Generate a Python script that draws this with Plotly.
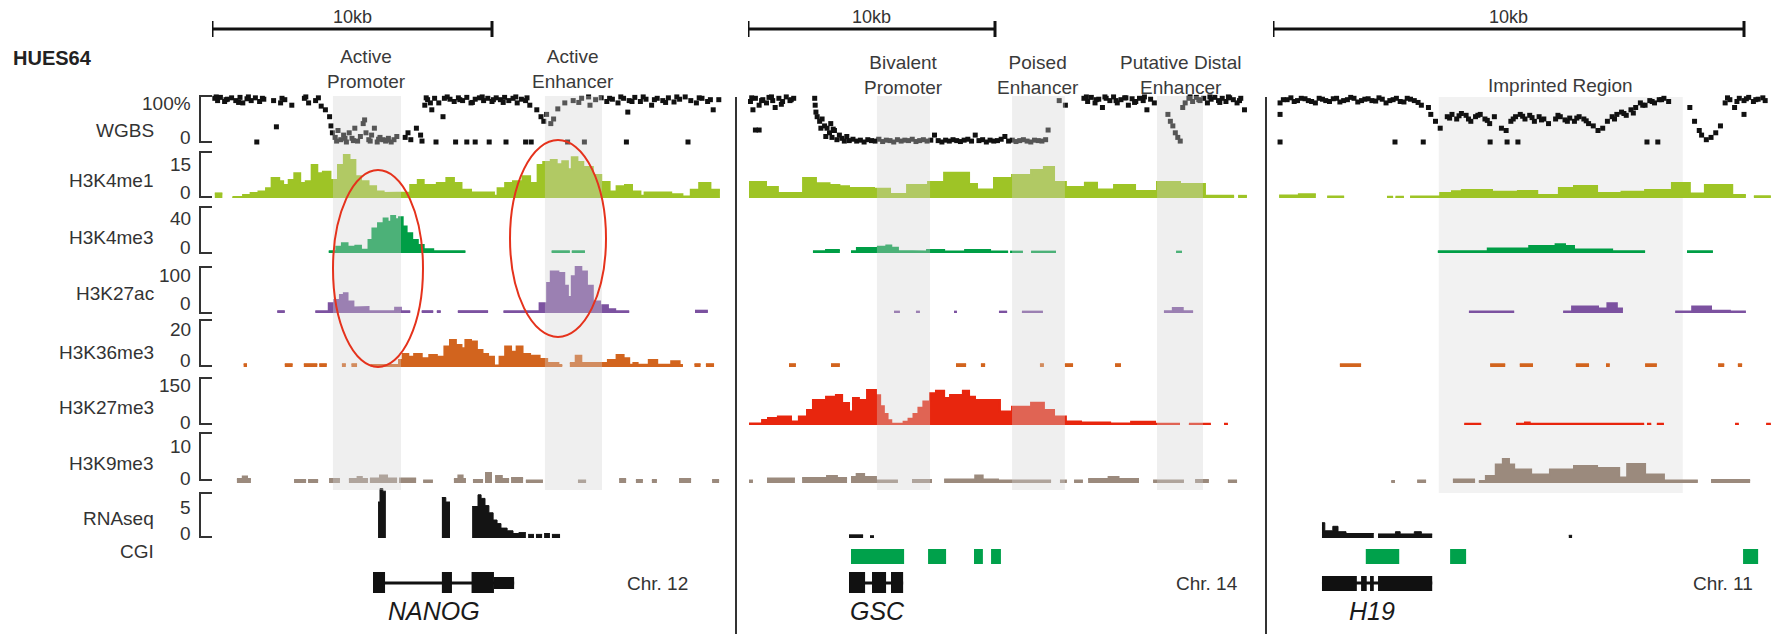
import plotly.graph_objects as go

W, H = 1787, 634
FONT = "Liberation Sans, Arial, Helvetica, sans-serif"

# ======================= DATA =======================
cell_line = "HUES64"
track_names = ["WGBS", "H3K4me1", "H3K4me3", "H3K27ac", "H3K36me3", "H3K27me3", "H3K9me3", "RNAseq"]
track_max = [100, 15, 40, 100, 20, 150, 10, 5]
track_top_label = ["100%", "15", "40", "100", "20", "150", "10", "5"]
track_bottom_label = ["0", "0", "0", "0", "0", "0", "0", "0"]
extra_label = "CGI"

panel_genes = ["NANOG", "GSC", "H19"]
panel_chroms = ["Chr. 12", "Chr. 14", "Chr. 11"]
panel_span_kb = [18.25, 20.4, 10.65]
scalebar_kb = 10
scalebar_text = "10kb"

# annotated regions (kb)
nanog_region_names = ["Active<br>Promoter", "Active<br>Enhancer"]
nanog_region_start = [4.32, 11.89]
nanog_region_end = [6.75, 13.93]
gsc_region_names = ["Bivalent<br>Promoter", "Poised<br>Enhancer", "Putative Distal<br>Enhancer"]
gsc_region_start = [5.22, 10.69, 16.56]
gsc_region_end = [7.37, 12.83, 18.42]
h19_region_names = ["Imprinted Region"]
h19_region_start = [3.52]
h19_region_end = [8.70]

# ---------- WGBS (position kb, methylation %) ----------
nanog_wgbs_kb = [0.1, 0.2, 0.3, 0.45, 0.55, 0.7, 0.85, 1.0, 1.1, 1.25, 1.4, 1.55, 1.7, 1.85, 1.6, 2.3, 2.2, 2.45, 2.6, 2.85,
                 3.3, 3.45, 3.7, 3.9, 4.05, 4.2, 4.25, 4.3, 4.4, 4.5, 4.6, 4.7, 4.8, 4.9, 5.0, 5.1, 5.2, 5.3, 5.4, 5.45,
                 5.5, 5.6, 5.7, 5.8, 5.9, 6.0, 6.1, 6.2, 6.3, 6.4, 6.5, 6.6, 6.9, 7.0, 7.1, 7.3, 7.45, 7.5, 7.6, 7.7,
                 7.85, 7.95, 8.1, 8.25, 8.3, 8.5, 8.65, 8.8, 8.95, 9.1, 9.25, 9.4, 9.55, 9.7, 9.85, 10.0, 10.15, 10.3, 10.45, 10.6,
                 10.75, 10.9, 11.05, 11.2, 11.35, 8.0, 8.7, 9.1, 9.4, 9.9, 10.5, 11.2, 11.4, 12.7, 13.3, 11.6, 11.75, 11.85, 11.95, 12.1,
                 12.2, 12.35, 12.6, 12.9, 13.2, 13.5, 13.7, 13.9, 14.1, 14.3, 14.5, 14.7, 14.9, 15.1, 15.3, 15.5, 15.7, 15.9, 16.1, 16.3,
                 16.5, 16.7, 16.9, 17.1, 17.3, 17.5, 17.7, 17.9, 18.1, 14.8, 17.0, 14.85,
                 0.15, 0.5, 0.95, 1.3, 1.8, 2.5, 3.35, 3.8, 7.65, 7.8, 8.4, 8.85, 9.3, 9.65, 10.05, 10.4, 10.85, 11.25,
                 13.1, 13.45, 14.2, 14.6, 15.0, 15.4, 15.8, 16.2, 16.6, 17.4, 17.8, 4.45, 4.75, 5.05, 5.65, 5.95, 6.25]
nanog_wgbs_pct = [95, 90, 97, 88, 93, 96, 90, 97, 85, 94, 90, 96, 88, 93, 0, 33, 90, 85, 92, 80,
                  95, 85, 90, 78, 70, 55, 35, 20, 10, 25, 5, 15, 0, 20, 8, 30, 2, 12, 40, 48,
                  20, 5, 15, 30, 0, 10, 5, 2, 8, 0, 5, 12, 10, 20, 5, 30, 15, 2, 80, 92,
                  70, 95, 85, 55, 95, 93, 88, 96, 90, 97, 85, 93, 96, 90, 95, 88, 96, 92, 97, 90,
                  95, 85, 93, 90, 80, 0, 0, 0, 0, 0, 0, 0, 0, 0, 0, 70, 55, 45, 60, 40,
                  50, 72, 85, 90, 95, 80, 92, 96, 88, 93, 85, 95, 90, 97, 88, 93, 80, 95, 90, 96,
                  87, 93, 98, 90, 85, 95, 88, 70, 92, 0, 0, 65,
                  98, 92, 86, 98, 95, 95, 98, 96, 96, 85, 98, 92, 86, 98, 92, 86, 98, 96,
                  86, 98, 95, 98, 88, 98, 92, 86, 98, 96, 92, 2, 8, 3, 2, 6, 4]

gsc_wgbs_kb = [0.1, 0.2, 0.3, 0.45, 0.6, 0.75, 0.85, 1.0, 1.1, 1.25, 1.4, 1.55, 1.7, 1.85, 0.3, 0.45,
               2.7, 2.72, 2.75, 2.8, 2.9, 3.0, 3.1, 3.2, 3.3, 3.35, 3.4, 3.5, 3.6, 3.7, 3.8, 3.9, 4.0,
               4.1, 4.25, 4.4, 4.55, 4.7, 4.85, 5.0, 5.15, 5.3, 5.45, 5.6, 5.75, 5.9, 6.05, 6.2, 6.35, 6.5, 6.65,
               6.8, 6.95, 7.1, 7.25, 7.4, 7.55, 7.7, 7.85, 8.0, 8.15, 8.3, 8.45, 8.6, 8.75, 8.9, 9.05, 9.2, 9.35,
               9.5, 9.65, 9.8, 9.95, 10.1, 10.25, 10.4, 10.55, 10.7, 10.85, 11.0, 11.15, 11.3, 11.45, 11.6, 11.75,
               11.9, 12.05, 12.15, 12.6, 12.85,
               13.6, 13.75, 13.9, 14.05, 14.2, 14.35, 14.5, 14.65, 14.8, 14.95, 15.1, 15.25, 15.4, 15.55, 15.7, 15.85,
               16.0, 16.15, 16.3, 16.45, 17.0, 17.1, 17.2, 17.3, 17.4, 17.5,
               17.6, 17.7, 17.85, 18.0, 18.15, 18.3, 18.45, 18.6, 18.75, 18.9, 19.05, 19.2, 19.35, 19.5, 19.65, 19.8,
               19.95, 20.1,
               0.15, 0.55, 0.95, 1.35, 1.75, 2.95, 3.15, 3.45, 13.7, 14.1, 14.45, 14.9, 15.3, 15.65, 16.05, 17.9,
               18.25, 18.7, 19.1, 19.45, 19.9]
gsc_wgbs_pct = [88, 70, 95, 80, 92, 85, 97, 90, 75, 95, 88, 98, 90, 95, 26, 26,
                95, 80, 65, 55, 45, 50, 35, 30, 20, 40, 10, 25, 5, 15, 8, 2, 12,
                3, 6, 2, 4, 0, 5, 3, 2, 6, 1, 4, 3, 0, 5, 2, 4, 3, 6,
                1, 3, 5, 2, 4, 15, 3, 0, 4, 2, 5, 3, 1, 4, 6, 2, 15, 3,
                5, 0, 4, 2, 3, 6, 12, 2, 4, 1, 3, 5, 2, 0, 4, 3,
                2, 5, 26, 90, 80,
                95, 88, 97, 85, 93, 75, 95, 90, 98, 85, 92, 96, 80, 94, 88, 95,
                90, 70, 93, 85, 60, 45, 35, 20, 10, 2,
                75, 85, 95, 88, 97, 90, 95, 85, 93, 97, 90, 95, 88, 96, 92, 85,
                95, 70,
                96, 90, 98, 82, 92, 30, 12, 28, 98, 92, 98, 90, 96, 86, 98, 98,
                92, 98, 86, 98, 90]

h19_wgbs_kb = [0.15, 0.3, 0.45, 0.6, 0.75, 0.9, 1.05, 1.2, 1.35, 1.5, 1.65, 1.8, 1.95, 2.1, 2.25, 2.4, 2.55, 2.7, 2.85, 3.0,
               3.15, 3.3, 0.15, 0.15, 2.59, 3.19, 4.61, 4.97, 5.2, 7.94, 8.17,
               3.35, 3.45, 3.55, 3.7, 3.8, 3.9, 4.0, 4.1, 4.2, 4.3, 4.4, 4.5, 4.6, 4.7, 4.85, 4.95,
               5.05, 5.15, 5.25, 5.35, 5.45, 5.55, 5.65, 5.75, 5.85, 6.0, 6.1, 6.2, 6.3, 6.4, 6.5, 6.6, 6.7, 6.8,
               6.9, 7.0, 7.1, 7.2, 7.3, 7.4, 7.5, 7.6, 7.7, 7.8, 7.9, 8.0, 8.1, 8.2, 8.3, 8.4, 8.85,
               8.95, 9.05, 9.1, 9.2, 9.3, 9.4, 9.5, 9.6, 9.7, 9.8, 9.9, 10.0, 10.1, 10.2, 10.3, 10.45, 10.0,
               0.22, 0.38, 0.52, 0.68, 0.82, 0.98, 1.12, 1.28, 1.42, 1.58, 1.72, 1.88, 2.02, 2.18, 2.32, 2.48, 2.62,
               2.78, 2.92, 3.08, 3.75, 3.95, 4.15, 4.35, 4.55, 5.1, 5.3, 5.5, 5.7, 6.05, 6.25, 6.45, 6.65, 7.25,
               7.45, 7.65, 7.85, 8.05, 8.25, 9.65, 9.85, 10.05, 10.25, 10.4]
h19_wgbs_pct = [85, 92, 88, 95, 90, 85, 93, 88, 95, 90, 97, 87, 93, 90, 96, 85, 92, 88, 95, 90,
                80, 75, 60, 0, 0, 0, 0, 0, 0, 0, 0,
                60, 45, 30, 55, 60, 50, 62, 58, 45, 55, 60, 50, 40, 55, 30, 25,
                45, 55, 60, 50, 58, 45, 55, 50, 40, 50, 55, 48, 52, 45, 55, 50, 40, 35,
                25, 30, 45, 55, 60, 65, 58, 70, 75, 85, 80, 90, 85, 92, 95, 88, 75,
                45, 25, 15, 5, 10, 20, 35, 85, 92, 75, 95, 90, 97, 88, 93, 90, 60,
                92, 96, 90, 94, 88, 95, 90, 94, 87, 92, 95, 90, 94, 89, 93, 90, 95,
                87, 93, 86, 52, 57, 50, 58, 47, 50, 56, 53, 48, 58, 45, 52, 46, 50,
                62, 63, 80, 88, 92, 96, 88, 94, 92, 96]

# ---------- signal tracks: bin edges (kb) and bin values (None = no data) ----------
nanog_k4me1_kb = [0.1, 0.37, 0.73, 1.11, 1.38, 1.66, 1.93, 2.13, 2.4, 2.54, 2.74, 2.94, 3.15, 3.35, 3.56, 3.76, 3.96,
                  4.23, 4.5, 4.71, 4.91, 5.12, 5.32, 5.59, 5.86, 6.13, 6.81, 7.08, 7.35, 7.56, 8.03, 8.37, 8.64, 8.91,
                  9.25, 10.07, 10.2, 10.47, 10.75, 11.09, 11.36, 11.63, 11.83, 12.1, 12.31, 12.51, 12.71, 12.85, 13.05,
                  13.26, 13.6, 13.9, 14.2, 14.45, 14.75, 15.0, 15.3, 15.45, 16.4, 16.8, 17.1, 17.4, 17.8, 18.14]
nanog_k4me1_val = [1.5, None, 0.3, 1.0, 1.6, 2.1, 3.2, 6.5, 5.5, 4.2, 5.9, 8.1, 4.9, 5.5, 10.8, 8.1, 8.6, 5.9, 10.8, 14.0,
                   12.4, 7.1, 5.5, 3.8, 2.1, 1.6, 1.8, 4.2, 5.9, 4.2, 4.9, 6.5, 4.9, 2.7, 1.8, 0.7, 3.2, 4.9, 5.5, 7.1,
                   4.9, 10.8, 11.7, 12.4, 11.0, 12.0, 9.4, 13.3, 11.7, 10.1, 7.5, 5.2, 2.1, 3.8, 4.2, 2.1, 0.7, 1.8,
                   1.2, 0.5, 2.7, 4.9, 2.7]
nanog_k4me3_kb = [4.17, 4.44, 4.64, 4.84, 5.12, 5.32, 5.59, 5.73, 5.93, 6.13, 6.27, 6.4, 6.54, 6.68, 6.81, 6.95, 7.15,
                  7.35, 7.56, 7.9, 9.05, 12.13, 12.78, 12.85, 13.32]
nanog_k4me3_val = [1.5, 5.5, 8.4, 5.5, 6.3, 2.9, 11.3, 21.4, 25.8, 30.1, 27.2, 32.2, 29.3, 31.0, 23.0, 17.2, 11.3, 7.0,
                   3.2, 1.5, None, 1.5, None, 1.5]
nanog_k27ac_kb = [2.33, 2.6, 3.69, 4.17, 4.37, 4.57, 4.71, 4.84, 5.05, 5.32, 5.59, 6.54, 6.74, 7.08, 7.49, 7.9, 8.03,
                  8.17, 8.78, 9.86, 10.41, 11.7, 11.97, 12.1, 12.37, 12.58, 12.71, 12.85, 12.99, 13.19, 13.39, 13.6,
                  13.86, 14.14, 14.4, 14.9, 17.25, 17.71]
nanog_k27ac_val = [4, None, 4, 21, 28, 39, 43, 25, 12, 13, 4, 11.6, 4, None, 4, None, 4, None, 4, None, 4, 21, 65, 90,
                   87, 59, 35, 80, 100, 90, 59, 25, 17, 8, 4, None, 5]
nanog_k36me3_kb = [1.13, 1.25, 2.6, 2.88, 3.28, 3.76, 3.83, 4.1, 4.64, 4.78, 4.98, 5.18, 5.66, 6.27, 6.68, 6.81, 7.01,
                   7.22, 7.49, 7.76, 8.03, 8.3, 8.5, 8.71, 8.91, 9.05, 9.25, 9.46, 9.66, 9.86, 10.07, 10.27, 10.47,
                   10.68, 10.88, 11.09, 11.36, 11.7, 11.97, 12.37, 12.51, 12.78, 12.99, 13.19, 14.14, 14.45, 14.7,
                   14.9, 15.05, 15.2, 15.6, 15.9, 16.4, 16.7, 16.82, 17.23, 17.45, 17.64, 17.93]
nanog_k36me3_val = [1.2, None, 1.2, None, 1.2, None, 1.2, None, 1.2, None, 1.2, None, 0.8, 1.0, 3.0, 5.5, 4.4, 5.5,
                    3.7, 5.1, 4.4, 8.7, 11.5, 9.4, 8.0, 11.5, 10.8, 7.2, 5.5, 4.4, 0.6, 4.4, 8.7, 6.5, 8.7, 5.5, 4.8,
                    3.4, 1.7, 0.8, None, 1.7, 4.8, 1.7, 3.0, 5.1, 3.7, 1.0, 1.7, 1.0, 3.0, 1.0, 2.4, 0.8, None, 1.2,
                    None, 1.2]
nanog_k9me3_kb = [0.89, 1.1, 1.25, 1.39, 2.93, 3.36, 3.43, 3.79, 4.18, 4.57, 4.89, 5.2, 5.35, 5.57, 5.64, 6.0, 6.25,
                  6.61, 6.68, 7.29, 7.54, 7.89, 8.64, 8.8, 8.95, 9.07, 9.32, 9.68, 9.75, 10.0, 10.11, 10.35, 10.61,
                  10.68, 11.11, 11.21, 11.82, 13.07, 13.36, 14.54, 14.79, 15.14, 15.39, 15.71, 15.89, 16.68, 17.11,
                  17.86, 18.11]
nanog_k9me3_val = [0.8, 1.3, 0.8, None, 0.6, None, 0.6, None, 0.8, None, 0.8, 1.2, 0.8, None, 0.9, 1.5, 0.9, None,
                   0.9, None, 0.5, None, 0.8, 1.5, 0.8, None, 0.6, None, 2.0, None, 1.4, 0.8, None, 1.0, None, 0.5,
                   None, 0.5, None, 0.8, None, 0.6, None, 0.6, None, 0.8, None, 0.6]
nanog_rna_kb = [5.93, 6.0, 6.1, 6.21, 8.21, 8.35, 8.5, 9.29, 9.5, 9.61, 9.75, 9.89, 10.04, 10.18, 10.32, 10.54, 10.75,
                10.96, 11.21, 11.29, 11.5, 11.57, 11.79, 11.86, 12.07, 12.14, 12.43]
nanog_rna_val = [4.0, 5.5, 5.2, None, 4.5, 4.0, None, 3.5, 4.8, 4.4, 3.6, 2.8, 2.0, 1.6, 1.1, 0.8, 0.5, 0.6, None,
                 0.4, None, 0.4, None, 0.5, None, 0.4]

gsc_k4me1_kb = [0.04, 0.73, 1.21, 2.23, 2.75, 3.3, 3.7, 4.09, 5.1, 5.75, 6.44, 7.29, 7.94, 8.95, 9.27, 9.96, 10.69,
                11.46, 11.98, 12.39, 12.87, 13.64, 14.13, 14.82, 15.67, 16.56, 17.49, 18.5, 19.68, 19.84, 20.2]
gsc_k4me1_val = [5.2, 3.6, 1.6, 6.5, 4.8, 4.2, 3.8, 3.3, 3.0, 1.3, 4.2, 5.2, 8.2, 4.6, 2.8, 6.5, 7.5, 9.1, 10.1, 5.2,
                 3.6, 5.0, 2.8, 4.2, 2.3, 5.2, 4.6, 0.7, None, 0.7]
gsc_k4me3_kb = [2.63, 3.16, 3.72, 4.17, 4.41, 5.26, 5.6, 5.8, 6.07, 6.76, 7.25, 7.94, 8.79, 9.8, 10.53, 10.61, 11.13,
                11.46, 12.47, 17.33, 17.57]
gsc_k4me3_val = [1.5, 2.5, None, 1.5, 4.3, 5.5, 6.5, 4.5, 1.7, 1.2, 2.5, 1.2, 2.5, 1.2, None, 1.2, None, 1.2, None, 1.2]
gsc_k27ac_kb = [5.91, 6.15, 6.8, 6.96, 8.34, 8.46, 10.16, 10.49, 11.09, 11.94, 16.84, 17.2, 17.6, 18.02]
gsc_k27ac_val = [3, None, 3, None, 3, None, 3, None, 3, None, 4, 11, 4]
gsc_k36me3_kb = [1.66, 1.94, 3.36, 3.72, 8.42, 8.83, 9.43, 9.6, 11.82, 11.98, 12.83, 13.16, 14.86, 15.1]
gsc_k36me3_val = [1.2, None, 1.2, None, 1.2, None, 1.2, None, 1.2, None, 1.2, None, 1.2]
gsc_k27me3_kb = [0.04, 0.57, 0.81, 1.21, 1.74, 2.06, 2.39, 2.63, 3.16, 3.56, 3.81, 4.09, 4.25, 4.49, 4.82, 5.18, 5.35,
                 5.5, 5.65, 5.8, 6.1, 6.3, 6.5, 6.7, 6.9, 7.1, 7.37, 7.61, 7.94, 8.18, 8.7, 8.95, 9.19, 10.2, 10.69,
                 11.46, 11.98, 12.39, 12.87, 13.48, 14.66, 15.51, 16.48, 17.49, 17.85, 18.74, 19.27, 19.43]
gsc_k27me3_val = [5, 16, 22, 27, 11, 27, 48, 80, 90, 96, 70, 43, 86, 80, 112, 95, 60, 35, 15, 5, 4, 10, 20, 35, 55,
                  75, 101, 109, 86, 96, 109, 90, 80, 43, 58, 71, 48, 27, 11, 8, 5, 10, 4, None, 4, None, 4]
gsc_k9me3_kb = [0.04, 0.2, 0.77, 1.9, 2.19, 3.2, 3.6, 4.01, 4.17, 4.4, 4.7, 5.18, 6.07, 6.64, 7.45, 7.94, 9.2, 9.5,
                10.12, 12.27, 12.63, 12.91, 13.2, 13.56, 13.77, 14.6, 15.0, 15.83, 16.4, 17.65, 18.1, 18.66, 19.43, 19.8]
gsc_k9me3_val = [0.5, None, 0.9, None, 1.0, 1.4, 1.0, None, 1.2, 1.8, 1.2, 0.5, None, 0.6, None, 0.7, 1.5, 0.7, 0.5,
                 None, 0.5, None, 0.5, None, 0.8, 1.2, 0.8, None, 0.5, None, 0.6, None, 0.5]
gsc_rna_kb = [4.09, 4.66, 4.94, 5.1]
gsc_rna_val = [0.35, None, 0.25]

h19_k4me1_kb = [0.13, 0.55, 0.91, 1.15, 1.51, 2.42, 2.55, 2.6, 2.78, 2.91, 3.55, 3.8, 4.01, 4.65, 5.2, 5.61, 6.07, 6.39,
                6.88, 7.4, 7.9, 8.47, 8.85, 9.17, 9.75, 10.04, 10.21, 10.57]
h19_k4me1_val = [0.8, 1.2, None, 0.5, None, 0.4, None, 0.4, None, 0.5, 1.6, 2.2, 2.6, 2.0, 2.3, 1.0, 3.3, 3.9, 1.6,
                 2.0, 2.6, 4.9, 1.5, 4.2, 1.0, None, 0.6]
h19_k4me3_kb = [3.5, 4.56, 5.44, 6.0, 6.2, 6.39, 7.2, 7.9, 8.79, 9.34]
h19_k4me3_val = [1.5, 4.0, 6.0, 7.5, 6.0, 3.0, 1.5, None, 1.5]
h19_k27ac_kb = [4.16, 5.12, 6.16, 6.35, 6.9, 7.1, 7.3, 7.43, 8.54, 8.9, 9.3, 9.7, 9.9, 10.04]
h19_k27ac_val = [3, None, 3, 14, 10, 21, 10, None, 3, 14, 5, 3, 3]
h19_k36me3_kb = [1.42, 1.87, 4.61, 4.93, 5.24, 5.52, 6.43, 6.71, 7.07, 7.15, 7.9, 8.15, 9.45, 9.58, 9.87, 9.96]
h19_k36me3_val = [1.2, None, 1.2, None, 1.2, None, 1.2, None, 1.2, None, 1.2, None, 1.2, None, 1.2]
h19_k27me3_kb = [4.06, 4.42, 5.16, 5.35, 5.45, 7.88, 7.94, 8.03, 8.15, 8.3, 9.81, 9.89, 10.47, 10.57]
h19_k27me3_val = [4, None, 4, 8, 4, None, 4, None, 4, None, 4, None, 4]
h19_k9me3_kb = [2.51, 2.59, 3.06, 3.25, 3.82, 4.29, 4.37, 4.52, 4.73, 4.88, 5.01, 5.12, 5.48, 5.88, 6.39, 6.88, 7.35,
                7.52, 7.9, 8.3, 9.02, 9.3, 10.13]
h19_k9me3_val = [0.4, None, 0.5, None, 0.7, None, 0.4, 1.4, 3.7, 4.8, 3.7, 2.7, 1.7, 2.7, 3.4, 3.0, 1.1, 3.8, 1.7,
                 0.5, None, 0.6]
h19_rna_kb = [1.04, 1.1, 1.27, 1.38, 1.55, 2.14, 2.23, 2.6, 2.7, 3.0, 3.15, 3.38, 6.28, 6.35]
h19_rna_val = [1.7, 0.8, 1.3, 0.7, 0.5, None, 0.45, 0.7, 0.45, 0.7, 0.45, None, 0.3]

# ---------- CpG islands (kb) ----------
nanog_cgi_start, nanog_cgi_end = [], []
gsc_cgi_start = [4.17, 7.29, 9.15, 9.84]
gsc_cgi_end = [6.32, 8.02, 9.51, 10.24]
h19_cgi_start = [1.97, 3.76, 9.98]
h19_cgi_end = [2.68, 4.10, 10.30]

# ---------- gene models (kb) ----------
nanog_exon_start = [5.75, 8.21, 9.27, 9.50, 10.07]
nanog_exon_end = [6.18, 8.57, 9.50, 10.07, 10.79]
nanog_exon_kind = ["cds", "cds", "cds", "cds", "utr"]
gsc_exon_start = [4.09, 5.02, 5.79]
gsc_exon_end = [4.74, 5.59, 6.28]
gsc_exon_kind = ["cds", "cds", "cds"]
h19_exon_start = [1.04, 1.87, 2.06, 2.23]
h19_exon_end = [1.78, 1.99, 2.14, 3.38]
h19_exon_kind = ["nc", "nc", "nc", "nc"]

# ======================= LAYOUT CONSTANTS =======================
track_colors = ["#111111", "#9ec426", "#009e46", "#7c52a0", "#d2641e", "#e8260e", "#9b8a7d", "#141414"]
track_top_px = [96, 152, 207, 267, 320, 378, 433, 493]
track_base_px = [142, 198, 253, 313, 367, 425, 483, 538]
bracket_bot_px = [142, 197, 253, 313, 366, 424, 480, 537]
label_y_px = [130, 180, 237, 293, 352, 407, 463, 518]
top_lab_y_px = [103, 165, 218, 275, 329, 385, 447, 507]
bot_lab_y_px = [137, 192, 247, 303, 360, 422, 478, 533]
panel_left_px = [212, 748, 1273]
panel_px_per_kb = [28.0, 24.7, 47.1]
shade_on_top = [True, True, False]
TEXT = "#333333"


def xp(p):
    return p / W


def yp(p):
    return 1 - p / H


panels = [
    dict(wgbs=(nanog_wgbs_kb, nanog_wgbs_pct),
         sig={1: (nanog_k4me1_kb, nanog_k4me1_val), 2: (nanog_k4me3_kb, nanog_k4me3_val),
              3: (nanog_k27ac_kb, nanog_k27ac_val), 4: (nanog_k36me3_kb, nanog_k36me3_val),
              6: (nanog_k9me3_kb, nanog_k9me3_val), 7: (nanog_rna_kb, nanog_rna_val)},
         regions=(nanog_region_names, nanog_region_start, nanog_region_end),
         cgi=(nanog_cgi_start, nanog_cgi_end),
         exons=(nanog_exon_start, nanog_exon_end, nanog_exon_kind),
         label_y=68.5, gene_x=434, chrom_x=690),
    dict(wgbs=(gsc_wgbs_kb, gsc_wgbs_pct),
         sig={1: (gsc_k4me1_kb, gsc_k4me1_val), 2: (gsc_k4me3_kb, gsc_k4me3_val),
              3: (gsc_k27ac_kb, gsc_k27ac_val), 4: (gsc_k36me3_kb, gsc_k36me3_val),
              5: (gsc_k27me3_kb, gsc_k27me3_val), 6: (gsc_k9me3_kb, gsc_k9me3_val),
              7: (gsc_rna_kb, gsc_rna_val)},
         regions=(gsc_region_names, gsc_region_start, gsc_region_end),
         cgi=(gsc_cgi_start, gsc_cgi_end),
         exons=(gsc_exon_start, gsc_exon_end, gsc_exon_kind),
         label_y=74.5, gene_x=877, chrom_x=1240),
    dict(wgbs=(h19_wgbs_kb, h19_wgbs_pct),
         sig={1: (h19_k4me1_kb, h19_k4me1_val), 2: (h19_k4me3_kb, h19_k4me3_val),
              3: (h19_k27ac_kb, h19_k27ac_val), 4: (h19_k36me3_kb, h19_k36me3_val),
              5: (h19_k27me3_kb, h19_k27me3_val), 6: (h19_k9me3_kb, h19_k9me3_val),
              7: (h19_rna_kb, h19_rna_val)},
         regions=(h19_region_names, h19_region_start, h19_region_end),
         cgi=(h19_cgi_start, h19_cgi_end),
         exons=(h19_exon_start, h19_exon_end, h19_exon_kind),
         label_y=85, gene_x=1372, chrom_x=1755),
]


def segments(edges, vals):
    segs, cx, cy = [], [], []
    for a, b, v in zip(edges[:-1], edges[1:], vals):
        if v is None:
            if cx:
                segs.append((cx, cy))
                cx, cy = [], []
            continue
        cx += [a, b]
        cy += [v, v]
    if cx:
        segs.append((cx, cy))
    return segs


fig = go.Figure()
layout = dict(width=W, height=H, margin=dict(l=0, r=0, t=0, b=0), paper_bgcolor="white",
              plot_bgcolor="rgba(0,0,0,0)", showlegend=False)

for p in range(3):
    name = "xaxis" if p == 0 else f"xaxis{p + 1}"
    left = panel_left_px[p]
    right = left + panel_span_kb[p] * panel_px_per_kb[p]
    layout[name] = dict(domain=[xp(left), xp(right)], range=[0, panel_span_kb[p]], visible=False,
                        fixedrange=True, anchor="y")
PAD_T, PAD_B = 10, 4
for t in range(len(track_names)):
    name = "yaxis" if t == 0 else f"yaxis{t + 1}"
    top, base, mx = track_top_px[t], track_base_px[t], track_max[t]
    s = mx / (base - top)
    layout[name] = dict(domain=[yp(base + PAD_B), yp(top - PAD_T)], range=[-PAD_B * s, mx + PAD_T * s],
                        visible=False, fixedrange=True, anchor="x")
fig.update_layout(**layout)

shapes, annos = [], []

for p, pan in enumerate(panels):
    xa = "x" if p == 0 else f"x{p + 1}"
    kb, pct = pan["wgbs"]
    fig.add_trace(go.Scatter(x=kb, y=pct, mode="markers", xaxis=xa, yaxis="y", cliponaxis=False,
                             marker=dict(symbol="square", size=5, color="#111111", line=dict(width=0)),
                             hoverinfo="skip"))
    for t, (edges, vals) in pan["sig"].items():
        ya = f"y{t + 1}"
        col = track_colors[t]
        lw = 1 if t == 7 else 2
        for sx, sy in segments(edges, vals):
            fig.add_trace(go.Scatter(x=sx, y=sy, mode="lines", fill="tozeroy", fillcolor=col,
                                     line=dict(color=col, width=lw), xaxis=xa, yaxis=ya, hoverinfo="skip"))
    names, starts, ends = pan["regions"]
    for n, a, b in zip(names, starts, ends):
        if shade_on_top[p]:
            shapes.append(dict(type="rect", xref=xa, yref="paper", x0=a, x1=b, y0=yp(490), y1=yp(96),
                               fillcolor="rgba(212,212,212,0.36)", line=dict(width=0), layer="above"))
        else:
            shapes.append(dict(type="rect", xref=xa, yref="paper", x0=a, x1=b, y0=yp(493), y1=yp(97),
                               fillcolor="#f2f2f2", line=dict(width=0), layer="below"))
        annos.append(dict(text=n, xref=xa, yref="paper", x=(a + b) / 2, y=yp(pan["label_y"]),
                          xanchor="center", yanchor="middle", showarrow=False,
                          font=dict(family=FONT, size=19, color="#3a3a3a")))
    for a, b in zip(*pan["cgi"]):
        shapes.append(dict(type="rect", xref=xa, yref="paper", x0=a, x1=b, y0=yp(564), y1=yp(549),
                           fillcolor="#00a14b", line=dict(width=0), layer="above"))
    es, ee, ek = pan["exons"]
    shapes.append(dict(type="line", xref=xa, yref="paper", x0=min(es), x1=max(ee), y0=yp(583), y1=yp(583),
                       line=dict(color="#111111", width=3), layer="above"))
    heights = {"cds": (572, 593), "utr": (577, 589), "nc": (576, 591)}
    for a, b, k in zip(es, ee, ek):
        y_top, y_bot = heights[k]
        shapes.append(dict(type="rect", xref=xa, yref="paper", x0=a, x1=b, y0=yp(y_bot), y1=yp(y_top),
                           fillcolor="#111111", line=dict(width=0), layer="above"))
    annos.append(dict(text=f"<i>{panel_genes[p]}</i>", xref="paper", yref="paper", x=xp(pan["gene_x"]),
                      y=yp(611), xanchor="center", yanchor="middle", showarrow=False,
                      font=dict(family=FONT, size=25, color="#1a1a1a")))
    annos.append(dict(text=panel_chroms[p], xref="paper", yref="paper", x=xp(pan["chrom_x"]), y=yp(583),
                      xanchor="right", yanchor="middle", showarrow=False,
                      font=dict(family=FONT, size=19, color=TEXT)))
    shapes.append(dict(type="line", xref=xa, yref="paper", x0=0, x1=scalebar_kb, y0=yp(29), y1=yp(29),
                       line=dict(color="#111111", width=3)))
    for xx in (0, scalebar_kb):
        shapes.append(dict(type="line", xref=xa, yref="paper", x0=xx, x1=xx, y0=yp(37), y1=yp(21),
                           line=dict(color="#111111", width=3)))
    annos.append(dict(text=scalebar_text, xref=xa, yref="paper", x=scalebar_kb / 2, y=yp(17),
                      xanchor="center", yanchor="middle", showarrow=False,
                      font=dict(family=FONT, size=18, color=TEXT)))

for dx in (736, 1266):
    shapes.append(dict(type="line", xref="paper", yref="paper", x0=xp(dx), x1=xp(dx), y0=yp(634), y1=yp(97),
                       line=dict(color="#333333", width=2)))

for (x0, x1, y0, y1) in [(333, 423, 170, 367), (510, 606, 140, 337)]:
    shapes.append(dict(type="circle", xref="paper", yref="paper", x0=xp(x0), x1=xp(x1), y0=yp(y1), y1=yp(y0),
                       line=dict(color="#e5321c", width=2), fillcolor="rgba(0,0,0,0)", layer="above"))

for t, nm in enumerate(track_names):
    annos.append(dict(text=nm, xref="paper", yref="paper", x=xp(156), y=yp(label_y_px[t]), xanchor="right",
                      yanchor="middle", showarrow=False, font=dict(family=FONT, size=19, color=TEXT)))
    annos.append(dict(text=track_top_label[t], xref="paper", yref="paper", x=xp(193), y=yp(top_lab_y_px[t]),
                      xanchor="right", yanchor="middle", showarrow=False, font=dict(family=FONT, size=19, color=TEXT)))
    annos.append(dict(text=track_bottom_label[t], xref="paper", yref="paper", x=xp(193), y=yp(bot_lab_y_px[t]),
                      xanchor="right", yanchor="middle", showarrow=False, font=dict(family=FONT, size=19, color=TEXT)))
    top, bot = track_top_px[t], bracket_bot_px[t]
    shapes.append(dict(type="path", xref="paper", yref="paper",
                       path=f"M {xp(212)},{yp(top)} L {xp(200)},{yp(top)} L {xp(200)},{yp(bot)} L {xp(212)},{yp(bot)}",
                       line=dict(color="#333333", width=2)))
annos.append(dict(text=extra_label, xref="paper", yref="paper", x=xp(156), y=yp(551), xanchor="right",
                  yanchor="middle", showarrow=False, font=dict(family=FONT, size=19, color=TEXT)))
annos.append(dict(text=f"<b>{cell_line}</b>", xref="paper", yref="paper", x=xp(11), y=yp(58), xanchor="left",
                  yanchor="middle", showarrow=False, font=dict(family=FONT, size=20, color="#222222")))

fig.update_layout(shapes=shapes, annotations=annos)
fig.write_html("out.html")
